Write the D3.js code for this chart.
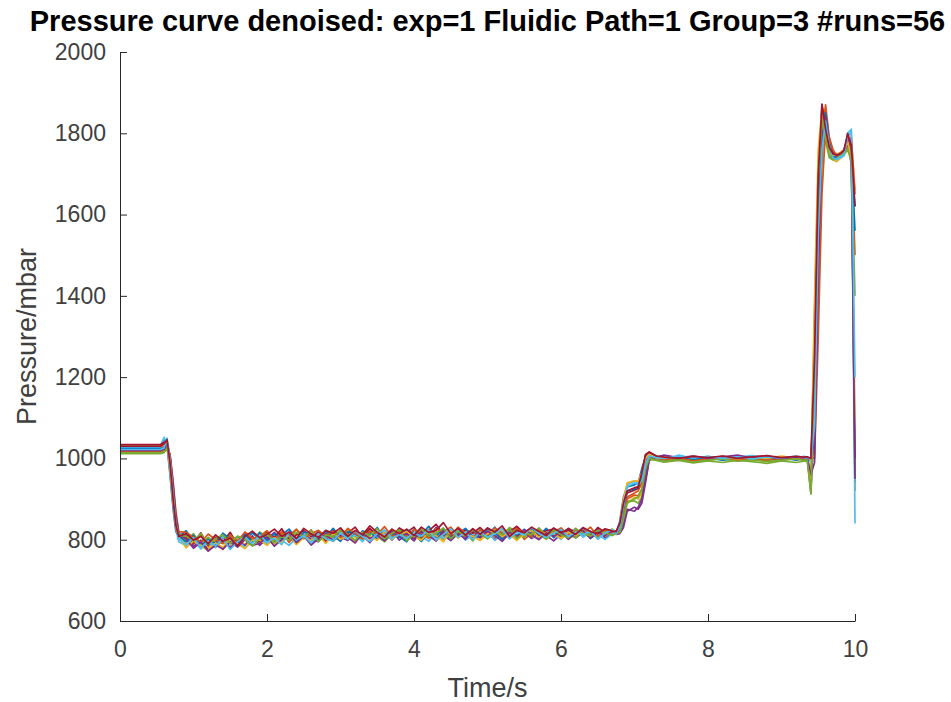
<!DOCTYPE html>
<html lang="en">
<head>
<meta charset="UTF-8">
<title>Pressure curve denoised</title>
<script src="https://d3js.org/d3.v7.min.js"></script>
<style>
  body { margin: 0; background: #fff; }
  text { font-family: "Liberation Sans", Arial, Helvetica, sans-serif; }
</style>
</head>
<body>
<div id="my_dataviz"></div>
<script>
// sample times (s), shared by every run
var times = [0, 0.55, 0.6, 0.64, 0.68, 0.72, 0.76, 0.8,
  0.9, 1.0, 1.1, 1.2, 1.3, 1.4, 1.5, 1.6, 1.7, 1.8,
  1.9, 2.0, 2.1, 2.2, 2.3, 2.4, 2.5, 2.6, 2.7, 2.8,
  2.9, 3.0, 3.1, 3.2, 3.3, 3.4, 3.5, 3.6, 3.7, 3.8,
  3.9, 4.0, 4.1, 4.2, 4.3, 4.4, 4.5, 4.6, 4.7, 4.8,
  4.9, 5.0, 5.1, 5.2, 5.3, 5.4, 5.5, 5.6, 5.7, 5.8,
  5.9, 6.0, 6.1, 6.2, 6.3, 6.4, 6.5, 6.6, 6.7,
  6.75, 6.8, 6.85, 6.9, 7.0, 7.05, 7.1, 7.15, 7.2, 7.3,
  7.4, 7.6, 7.8, 8.0, 8.2, 8.4, 8.6, 8.8, 9.0, 9.2, 9.3,
  9.35, 9.4, 9.45, 9.5, 9.55, 9.6, 9.65, 9.7, 9.75, 9.8, 9.85, 9.9, 9.95, 10.0]

// pressure (mbar) of each run
var run01 = [1032, 1032, 1048, 1030, 960, 880, 820, 808,
  822, 796, 781, 805, 790, 812, 794, 808, 799, 817,
  801, 819, 795, 812, 826, 803, 815, 798, 821, 806,
  828, 804, 817, 796, 822, 811, 830, 801, 818, 808,
  795, 824, 812, 833, 806, 819, 800, 827, 813, 804,
  822, 809, 831, 799, 816, 825, 807, 820, 811, 828,
  805, 818, 826, 809, 821, 803, 817, 824, 812,
  818, 845, 905, 930, 935, 940, 975, 1005, 1008, 1000,
  998, 1002, 995, 1000, 997, 1003, 996, 1001, 998, 1002, 1000,
  1000, 960, 1350, 1720, 1850, 1790, 1745, 1738, 1742, 1750, 1755, 1790, 1720, 1620]
var run02 = [1026, 1026, 1030, 1040, 990, 900, 835, 812,
  804, 788, 812, 783, 797, 776, 806, 792, 815, 798,
  812, 797, 808, 820, 793, 814, 805, 824, 799, 811,
  803, 822, 809, 797, 815, 827, 806, 818, 799, 821,
  816, 803, 825, 811, 797, 820, 831, 808, 817, 802,
  814, 826, 805, 819, 810, 829, 801, 815, 824, 808,
  821, 806, 815, 828, 811, 819, 806, 822, 815,
  816, 820, 870, 905, 915, 920, 940, 985, 1012, 1002,
  995, 999, 1004, 996, 1001, 994, 999, 1003, 997, 1000, 1002,
  998, 1000, 1120, 1580, 1800, 1870, 1790, 1750, 1742, 1748, 1752, 1770, 1760, 1500]
var run03 = [1018, 1018, 1020, 1035, 1010, 930, 850, 815,
  790, 808, 795, 779, 801, 792, 784, 803, 788, 806,
  794, 809, 787, 803, 815, 798, 810, 793, 806, 818,
  811, 797, 823, 805, 814, 801, 819, 808, 826, 812,
  807, 818, 799, 813, 822, 805, 816, 827, 809, 820,
  802, 817, 809, 824, 813, 798, 821, 810, 826, 815,
  809, 823, 803, 815, 820, 810, 824, 808, 818,
  815, 818, 845, 890, 905, 900, 915, 950, 1000, 1006,
  1001, 996, 999, 1004, 998, 1002, 995, 1000, 1004, 997, 999,
  1001, 1000, 1020, 1400, 1700, 1830, 1770, 1735, 1730, 1738, 1745, 1760, 1790, 1660]
var run04 = [1022, 1022, 1024, 1030, 1000, 920, 840, 800,
  812, 783, 799, 774, 788, 803, 780, 797, 786, 810,
  786, 802, 818, 797, 808, 790, 813, 801, 795, 816,
  819, 806, 798, 821, 810, 793, 815, 805, 822, 799,
  812, 797, 821, 806, 830, 811, 798, 815, 805, 826,
  808, 819, 800, 813, 827, 806, 818, 803, 815, 810,
  797, 814, 822, 805, 817, 811, 826, 804, 816,
  813, 815, 830, 870, 880, 875, 890, 940, 995, 1004,
  1006, 999, 1003, 997, 1001, 1005, 998, 1002, 996, 1001, 1003,
  1002, 915, 1100, 1620, 1860, 1820, 1760, 1745, 1750, 1745, 1750, 1765, 1780, 940]
var run05 = [1012, 1012, 1014, 1030, 1005, 940, 860, 818,
  798, 815, 789, 806, 782, 799, 811, 790, 805, 795,
  819, 804, 797, 813, 803, 825, 809, 796, 812, 804,
  796, 812, 826, 809, 801, 817, 808, 795, 813, 824,
  821, 810, 804, 826, 815, 801, 824, 812, 818, 797,
  825, 803, 815, 811, 830, 817, 806, 824, 813, 801,
  818, 827, 812, 804, 823, 815, 806, 819, 826,
  818, 822, 860, 895, 895, 890, 905, 960, 998, 995,
  991, 995, 989, 994, 990, 996, 992, 988, 994, 990, 993,
  994, 930, 1250, 1650, 1820, 1780, 1740, 1735, 1740, 1742, 1748, 1770, 1740, 920]
var run06 = [1028, 1028, 1052, 1035, 970, 890, 825, 795,
  785, 800, 777, 793, 780, 810, 789, 801, 780, 795,
  805, 790, 811, 799, 786, 804, 816, 792, 808, 797,
  804, 818, 801, 812, 795, 823, 806, 815, 800, 816,
  803, 827, 808, 796, 818, 804, 812, 823, 799, 812,
  810, 822, 798, 819, 806, 813, 826, 808, 803, 822,
  813, 801, 819, 826, 806, 820, 812, 801, 815,
  814, 830, 890, 935, 945, 938, 950, 990, 1005, 998,
  996, 1008, 1000, 1005, 999, 1003, 1007, 1001, 1004, 999, 1005,
  1004, 990, 1200, 1500, 1750, 1800, 1760, 1738, 1735, 1740, 1745, 1800, 1810, 840]
var run07 = [1034, 1034, 1040, 1035, 985, 900, 830, 805,
  808, 792, 817, 786, 806, 795, 818, 787, 812, 800,
  795, 818, 806, 827, 800, 812, 822, 807, 818, 796,
  822, 809, 816, 831, 805, 827, 812, 820, 807, 829,
  818, 831, 805, 822, 838, 813, 826, 809, 824, 816,
  830, 812, 824, 806, 820, 833, 815, 826, 810, 822,
  826, 811, 828, 817, 823, 809, 830, 818, 823,
  819, 835, 885, 915, 922, 926, 960, 1008, 1015, 1004,
  1002, 998, 1004, 1000, 1005, 999, 1003, 1006, 1000, 1004, 1002,
  1003, 1000, 1180, 1640, 1872, 1820, 1770, 1752, 1748, 1752, 1760, 1790, 1760, 1000]
var run08 = [1024, 1024, 1026, 1042, 1005, 925, 845, 808,
  795, 811, 784, 800, 791, 816, 802, 787, 814, 793,
  817, 799, 815, 802, 810, 797, 819, 813, 799, 822,
  810, 796, 820, 814, 806, 819, 801, 822, 812, 805,
  825, 814, 796, 817, 809, 828, 804, 816, 828, 807,
  806, 828, 817, 801, 822, 809, 819, 828, 805, 817,
  810, 824, 806, 816, 829, 807, 820, 813, 822,
  816, 825, 875, 920, 925, 930, 955, 995, 1008, 1003,
  999, 1003, 997, 1002, 996, 1000, 1004, 998, 1002, 996, 1000,
  1001, 1000, 1060, 1500, 1780, 1850, 1780, 1745, 1740, 1746, 1752, 1775, 1750, 1560]
var run09 = [1016, 1016, 1018, 1022, 1012, 950, 870, 820,
  818, 806, 793, 814, 800, 790, 811, 797, 819, 803,
  808, 822, 800, 817, 810, 826, 802, 815, 823, 809,
  820, 805, 828, 816, 802, 821, 813, 832, 808, 819,
  809, 825, 816, 803, 827, 820, 809, 831, 817, 805,
  823, 811, 829, 816, 804, 825, 818, 807, 828, 812,
  819, 829, 810, 824, 815, 831, 809, 822, 818,
  821, 824, 850, 900, 910, 908, 925, 970, 1002, 1000,
  997, 1001, 994, 999, 1003, 996, 1000, 995, 999, 1002, 998,
  999, 1002, 1000, 1300, 1650, 1810, 1790, 1760, 1745, 1750, 1755, 1770, 1790, 1650]
var run10 = [1030, 1030, 1034, 1044, 975, 895, 832, 806,
  780, 797, 786, 773, 792, 781, 802, 790, 778, 799,
  799, 786, 805, 794, 812, 788, 806, 798, 812, 791,
  815, 801, 809, 794, 818, 807, 799, 821, 803, 811,
  820, 808, 799, 818, 810, 795, 823, 804, 815, 808,
  798, 815, 824, 807, 819, 801, 812, 823, 806, 818,
  815, 803, 819, 810, 824, 808, 817, 812, 826,
  815, 840, 900, 940, 945, 944, 965, 1000, 1010, 1001,
  1004, 1000, 1006, 1001, 1005, 999, 1004, 1000, 1006, 1001, 1003,
  1002, 950, 1400, 1760, 1860, 1800, 1750, 1745, 1748, 1752, 1758, 1780, 1740, 1100]
var run11 = [1020, 1020, 1022, 1028, 1008, 940, 860, 812,
  802, 779, 794, 772, 787, 777, 795, 782, 800, 786,
  791, 807, 784, 800, 815, 793, 809, 787, 803, 812,
  798, 814, 805, 792, 817, 803, 811, 797, 820, 808,
  815, 802, 819, 810, 797, 822, 807, 816, 801, 823,
  805, 821, 810, 796, 818, 808, 825, 812, 800, 817,
  808, 820, 801, 816, 823, 804, 818, 810, 822,
  818, 820, 840, 875, 870, 880, 900, 950, 998, 1003,
  1008, 1002, 1006, 1000, 1004, 1008, 1001, 1005, 999, 1004, 1001,
  1003, 960, 990, 1450, 1780, 1840, 1770, 1740, 1738, 1744, 1750, 1790, 1770, 950]
var run12 = [1014, 1014, 1016, 1026, 995, 915, 842, 810,
  809, 797, 815, 788, 803, 812, 791, 809, 800, 784,
  803, 815, 792, 808, 799, 818, 806, 823, 795, 812,
  807, 824, 813, 798, 819, 810, 827, 802, 816, 824,
  797, 813, 826, 808, 815, 829, 802, 820, 810, 824,
  814, 802, 823, 812, 827, 803, 818, 812, 829, 806,
  824, 812, 805, 827, 815, 809, 823, 817, 810,
  816, 818, 850, 890, 900, 905, 925, 975, 1000, 996,
  993, 997, 991, 996, 999, 993, 997, 992, 996, 999, 995,
  996, 912, 1200, 1680, 1840, 1790, 1745, 1735, 1738, 1745, 1750, 1760, 1730, 1400]
var run13 = [1022, 1022, 1026, 1050, 1000, 915, 838, 803,
  788, 805, 780, 797, 785, 802, 776, 795, 807, 790,
  812, 793, 804, 788, 818, 799, 810, 792, 815, 802,
  797, 816, 803, 822, 808, 796, 815, 824, 804, 813,
  804, 817, 808, 824, 799, 813, 827, 806, 818, 801,
  819, 806, 814, 828, 802, 820, 811, 830, 815, 806,
  816, 825, 808, 819, 812, 822, 801, 817, 825,
  815, 830, 880, 930, 940, 935, 945, 985, 1006, 1002,
  1000, 1006, 1001, 1005, 1000, 1004, 999, 1004, 1001, 1006, 1002,
  1002, 1000, 1080, 1550, 1760, 1830, 1770, 1740, 1736, 1742, 1748, 1790, 1805, 1200]
var run14 = [1030, 1030, 1036, 1046, 990, 905, 836, 808,
  815, 799, 808, 790, 812, 796, 804, 785, 808, 821,
  805, 813, 826, 808, 819, 803, 828, 814, 806, 823,
  816, 829, 808, 823, 812, 834, 818, 807, 826, 815,
  826, 810, 831, 818, 823, 842, 815, 828, 811, 827,
  813, 829, 819, 834, 808, 823, 817, 831, 820, 810,
  829, 818, 824, 813, 830, 820, 815, 827, 821,
  820, 840, 890, 920, 928, 930, 965, 1010, 1016, 1006,
  1003, 1000, 1005, 1002, 1006, 1000, 1004, 1007, 1002, 1005, 1003,
  1004, 1000, 1250, 1700, 1868, 1810, 1765, 1750, 1746, 1750, 1758, 1800, 1770, 1620]

var runs = [run01, run02, run03, run04, run05, run06, run07,
  run08, run09, run10, run11, run12, run13, run14]
var lineColors = ["#0072BD", "#D95319", "#EDB120", "#7E2F8E", "#77AC30", "#4DBEEE", "#A2142F"]
var xTicks = [0, 2, 4, 6, 8, 10]
var yTicks = [600, 800, 1000, 1200, 1400, 1600, 1800, 2000]
var titleText = "Pressure curve denoised: exp=1 Fluidic Path=1 Group=3 #runs=56"

var width = 951, height = 702
var plotLeft = 120, plotRight = 855, plotTop = 52, plotBottom = 621

var svg = d3.select("#my_dataviz")
  .append("svg")
  .attr("width", width)
  .attr("height", height)

var x = d3.scaleLinear().domain([0, 10]).range([plotLeft, plotRight])
var y = d3.scaleLinear().domain([600, 2000]).range([plotBottom, plotTop])

var line = d3.line()
  .defined(function(d) { return d[0] !== undefined })
  .x(function(d) { return x(d[0]) })
  .y(function(d) { return y(d[1]) })

svg.selectAll(".run")
  .data(runs)
  .enter()
  .append("path")
  .attr("class", "run")
  .attr("fill", "none")
  .attr("stroke", function(d, i) { return lineColors[i % lineColors.length] })
  .attr("stroke-width", 1.7)
  .attr("stroke-linejoin", "round")
  .attr("d", function(d) {
    return line(d.map(function(v, i) { return [times[i], v] }))
  })

svg.append("g")
  .attr("transform", "translate(0," + plotBottom + ")")
  .call(d3.axisBottom(x).tickValues(xTicks).tickSizeInner(-7).tickSizeOuter(0).tickPadding(20))
svg.append("g")
  .attr("transform", "translate(" + plotLeft + ",0)")
  .call(d3.axisLeft(y).tickValues(yTicks).tickFormat(d3.format("d")).tickSizeInner(-7).tickSizeOuter(0).tickPadding(14))

svg.selectAll(".domain, .tick line").attr("stroke", "#262626").attr("stroke-width", 1)
svg.selectAll(".tick text")
  .attr("fill", "#404040")
  .style("font-size", "23px")
  .style("font-family", "'Liberation Sans', Arial, sans-serif")

svg.append("text")
  .attr("x", (plotLeft + plotRight) / 2)
  .attr("y", 31)
  .attr("text-anchor", "middle")
  .style("font-size", "29px")
  .style("font-weight", "bold")
  .attr("fill", "#000")
  .text(titleText)

svg.append("text")
  .attr("x", (plotLeft + plotRight) / 2)
  .attr("y", 697)
  .attr("text-anchor", "middle")
  .style("font-size", "27px")
  .attr("fill", "#404040")
  .text("Time/s")

svg.append("text")
  .attr("transform", "translate(36," + (plotTop + plotBottom) / 2 + ") rotate(-90)")
  .attr("text-anchor", "middle")
  .style("font-size", "27px")
  .attr("fill", "#404040")
  .text("Pressure/mbar")
</script>
</body>
</html>
